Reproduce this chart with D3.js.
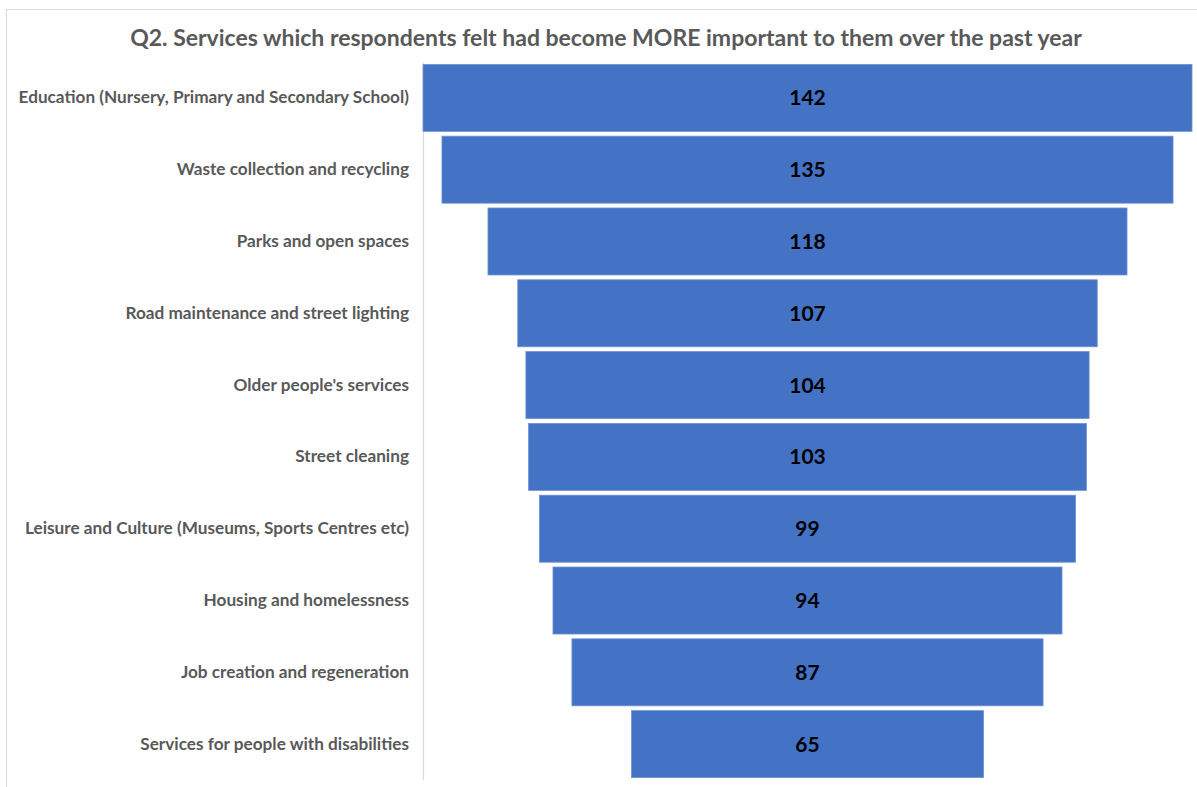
<!DOCTYPE html>
<html>
<head>
<meta charset="utf-8">
<script src="https://cdn.jsdelivr.net/npm/d3@7/dist/d3.min.js"></script>
<style>
  html, body { margin: 0; padding: 0; background: #ffffff; }
  svg { display: block; }
</style>
</head>
<body>
<svg id="chart" width="1197" height="787"></svg>
<script>
// Services rated as having become more important, ranked by count
const services = [
  "Education (Nursery, Primary and Secondary School)",
  "Waste collection and recycling",
  "Parks and open spaces",
  "Road maintenance and street lighting",
  "Older people's services",
  "Street cleaning",
  "Leisure and Culture (Museums, Sports Centres etc)",
  "Housing and homelessness",
  "Job creation and regeneration",
  "Services for people with disabilities"
];
const counts = [142, 135, 118, 107, 104, 103, 99, 94, 87, 65];
const chartTitle = "Q2. Services which respondents felt had become MORE important to them over the past year";

const width = 1197, height = 787;
const margin = { top: 62, right: 5, bottom: 8, left: 423 };
const svg = d3.select("#chart");

// Outer chart frame
svg.append("rect")
  .attr("x", 6.5).attr("y", 9.5)
  .attr("width", 1400).attr("height", 1000)
  .attr("fill", "none")
  .attr("stroke", "#d9d9d9")
  .attr("stroke-width", 1);

svg.append("text")
  .attr("x", 606)
  .attr("y", 46)
  .attr("text-anchor", "middle")
  .attr("font-family", "Lato, 'Open Sans', sans-serif")
  .attr("font-weight", "bold")
  .attr("font-size", 23)
  .attr("fill", "#595959")
  .text(chartTitle);

const plotLeft = margin.left;
const plotRight = width - margin.right;
const centre = (plotLeft + plotRight) / 2;

const y = d3.scaleBand()
  .domain(services)
  .range([margin.top, 780])
  .paddingInner(0.067)
  .paddingOuter(0.033);

// Half-width scale: bars are centred on the plot's middle
const half = d3.scaleLinear()
  .domain([0, d3.max(counts)])
  .range([0, (plotRight - plotLeft) / 2]);

const rows = services.map((s, i) => ({ name: s, value: counts[i] }));

// Category axis on the left
const yAxis = d3.axisLeft(y).tickSize(0).tickPadding(14);
const gAxis = svg.append("g")
  .attr("transform", `translate(${plotLeft},0)`)
  .call(yAxis);
gAxis.select(".domain").attr("stroke", "#d9d9d9").attr("stroke-width", 1.2);
gAxis.selectAll("text")
  .attr("font-family", "Lato, 'Open Sans', sans-serif")
  .attr("font-weight", "bold")
  .attr("font-size", 17.2)
  .attr("fill", "#595959");

svg.append("g")
  .selectAll("rect")
  .data(rows)
  .join("rect")
  .attr("x", d => centre - half(d.value))
  .attr("y", d => y(d.name))
  .attr("width", d => 2 * half(d.value))
  .attr("height", y.bandwidth())
  .attr("fill", "#4472c4")
  .attr("stroke", "#6f93d4")
  .attr("stroke-width", 0.8);

svg.append("g")
  .selectAll("text")
  .data(rows)
  .join("text")
  .attr("x", centre)
  .attr("y", d => y(d.name) + y.bandwidth() / 2)
  .attr("dy", "0.36em")
  .attr("text-anchor", "middle")
  .attr("font-family", "Lato, 'Open Sans', sans-serif")
  .attr("font-weight", "bold")
  .attr("font-size", 21)
  .attr("fill", "#000000")
  .text(d => d.value);
</script>
</body>
</html>
